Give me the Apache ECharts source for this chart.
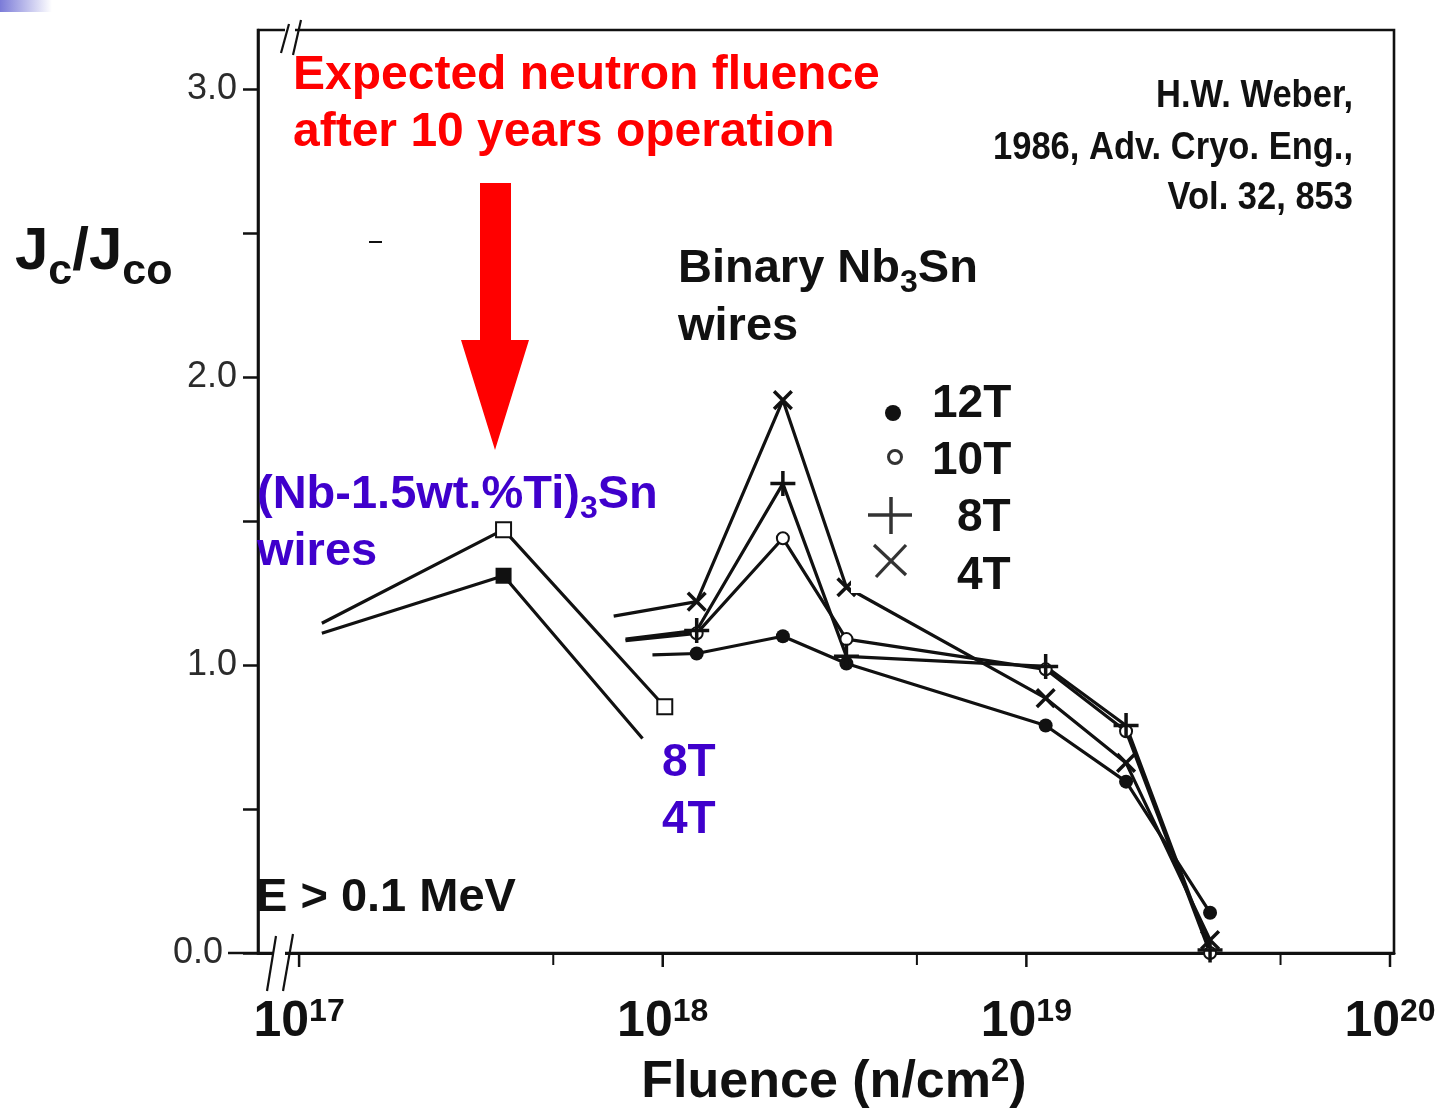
<!DOCTYPE html>
<html>
<head>
<meta charset="utf-8">
<script src="https://cdn.jsdelivr.net/npm/echarts@6/dist/echarts.min.js"></script>
<style>
html,body{margin:0;padding:0;background:#fff;}
#chart{width:1439px;height:1112px;}
</style>
</head>
<body>
<div id="chart"></div>
<script>
// ---------- data ----------
// Binary Nb3Sn wires: fluence (n/cm^2) of the marked points
const binFluence = [1.24e18, 2.14e18, 3.2e18, 1.13e19, 1.88e19, 3.2e19];
const bin12T = [1.04, 1.10, 1.005, 0.79, 0.595, 0.14];
const bin10T = [1.11, 1.44, 1.09, 0.985, 0.77, 0.0];
const bin8T  = [1.12, 1.63, 1.03, 0.995, 0.79, 0.01];
const bin4T  = [1.22, 1.92, 1.27, 0.885, 0.66, 0.045];
// where each binary line begins (no marker), order 12T,10T,8T,4T
const binStartFluence = [9.37e17, 7.9e17, 7.9e17, 7.33e17];
const binStartJc      = [1.035, 1.085, 1.09, 1.17];
// (Nb-1.5wt.%Ti)3Sn wires
const tiFluence8T = [1.155e17, 3.65e17, 1.013e18];
const ti8T        = [1.145, 1.47, 0.855];
const tiFluence4T = [1.155e17, 3.65e17, 8.8e17];
const ti4T        = [1.11, 1.31, 0.745];
// axis ticks
const xTickExps = [17, 18, 19, 20];
const xMinorTicks = [5e17, 5e18, 5e19];
const yLabels = [0, 1, 2, 3];

const FONT = '"Liberation Sans", Arial, Helvetica, sans-serif';
const NARROW = '"Liberation Sans Narrow", "Arial Narrow", "Liberation Sans", sans-serif';
const INK = '#111';
const BLUE = '#3f00cc';
const RED = '#ff0000';

const plusPath = 'path://M0,8.6H20V11.4H0Z M8.6,0H11.4V20H8.6Z';

function pts(xs, ys, noFirst, noLast) {
  return xs.map((x, i) => {
    const it = { value: [x, ys[i]] };
    if ((noFirst && i === 0) || (noLast && i === xs.length - 1)) it.symbol = 'none';
    return it;
  });
}
function binLine(name, idx, ys, symbol, size, rotate, item) {
  const xs = [binStartFluence[idx]].concat(binFluence);
  const vs = [binStartJc[idx]].concat(ys);
  return {
    name, type: 'line', data: pts(xs, vs, true, false),
    symbol, symbolSize: size, symbolRotate: rotate || 0, showAllSymbol: true,
    lineStyle: { color: INK, width: 3.2 },
    itemStyle: Object.assign({ color: INK }, item || {}),
    z: 3
  };
}

const series = [
  binLine('12T', 0, bin12T, 'circle', 14),
  binLine('10T', 1, bin10T, 'emptyCircle', 12, 0, { borderWidth: 2.8, borderColor: INK, color: INK }),
  binLine('8T', 2, bin8T, plusPath, 25),
  binLine('4T', 3, bin4T, plusPath, 25, 45),
  {
    name: 'Ti 8T', type: 'line', data: pts(tiFluence8T, ti8T, true, false),
    symbol: 'emptyRect', symbolSize: 15, showAllSymbol: true,
    lineStyle: { color: INK, width: 3.2 },
    itemStyle: { color: INK, borderColor: INK, borderWidth: 2.6 }, z: 3
  },
  {
    name: 'Ti 4T', type: 'line', data: pts(tiFluence4T, ti4T, true, true),
    symbol: 'rect', symbolSize: 16, showAllSymbol: true,
    lineStyle: { color: INK, width: 3.2 },
    itemStyle: { color: INK }, z: 3
  }
];

const option = {
  animation: false,
  backgroundColor: '#ffffff',
  grid: { left: 258, right: 45, top: 30, bottom: 159, show: true, borderColor: INK, borderWidth: 2.6 },
  xAxis: {
    type: 'log', logBase: 10,
    min: Math.pow(10, 16.887), max: Math.pow(10, 20.011),
    axisLine: { show: true, onZero: false, lineStyle: { color: INK, width: 3 } },
    axisTick: { show: false },
    splitLine: { show: false },
    minorTick: { show: false },
    axisLabel: {
      show: true, margin: 43, showMinLabel: false, showMaxLabel: false,
      formatter: function (v) {
        const e = Math.log10(v);
        const r = Math.round(e);
        if (Math.abs(e - r) > 1e-6 || xTickExps.indexOf(r) < 0) return '';
        return '{b|10}{s|' + r + '}';
      },
      rich: {
        b: { fontSize: 50, fontWeight: 'bold', fontFamily: FONT, color: INK, lineHeight: 52 },
        s: { fontSize: 32, fontWeight: 'bold', fontFamily: FONT, color: INK, lineHeight: 24, verticalAlign: 'top' }
      }
    }
  },
  yAxis: {
    type: 'value', min: 0, max: 3.205, interval: 0.5,
    axisLine: { show: true, onZero: false, lineStyle: { color: INK, width: 2.6 } },
    axisTick: { show: true, inside: false, length: 15, lineStyle: { color: INK, width: 2.5 } },
    splitLine: { show: false },
    axisLabel: {
      margin: 21, fontSize: 36, color: '#2b2b2b', fontFamily: FONT, showMaxLabel: false,
      formatter: function (v) {
        const r = Math.round(v * 1000) / 1000;
        if (yLabels.indexOf(r) < 0) return '';
        return r === 0 ? '{z|' + v.toFixed(1) + '}' : v.toFixed(1);
      },
      rich: { z: { fontSize: 36, color: '#2b2b2b', fontFamily: FONT, padding: [0, 14, 0, 0] } }
    }
  },
  series: series
};

const chart = echarts.init(document.getElementById('chart'), null, { renderer: 'canvas' });
chart.setOption(option);

function px(x, y) { return chart.convertToPixel({ gridIndex: 0 }, [x, y]); }

const mctx = document.createElement('canvas').getContext('2d');
function measure(text, font) { mctx.font = font; return mctx.measureText(text).width; }

function txt(text, x, y, size, color, align, extra) {
  return Object.assign({
    type: 'text', z: 120,
    style: {
      text: text, x: x, y: y, fill: color || INK,
      font: 'bold ' + size + 'px ' + FONT,
      align: align || 'left', verticalAlign: 'middle',
      textAlign: align || 'left', textVerticalAlign: 'middle'
    }
  }, extra || {});
}
// composite text on a common baseline B; parts: [text, size, baselineShift]
function comp(parts, x, B, color, align) {
  const fonts = parts.map(p => 'bold ' + p[1] + 'px ' + FONT);
  const ws = parts.map((p, i) => measure(p[0], fonts[i]));
  const total = ws.reduce((a, b) => a + b, 0);
  let cx = align === 'center' ? x - total / 2 : (align === 'right' ? x - total : x);
  const out = [];
  parts.forEach((p, i) => {
    out.push({
      type: 'text', z: 120,
      style: {
        text: p[0], x: cx, y: B + (p[2] || 0) - 0.3465 * p[1], fill: color || INK, font: fonts[i],
        align: 'left', verticalAlign: 'middle', textAlign: 'left', textVerticalAlign: 'middle'
      }
    });
    cx += ws[i];
  });
  return out;
}
function line(x1, y1, x2, y2, w, color, z) {
  return { type: 'line', z: z || 110, shape: { x1, y1, x2, y2 }, style: { stroke: color || INK, lineWidth: w || 2.5 } };
}

const g = [];
// top-left slide gradient
g.push({ type: 'rect', z: 1, shape: { x: 0, y: 0, width: 52, height: 12 },
  style: { fill: new echarts.graphic.LinearGradient(0, 0, 1, 0, [{ offset: 0, color: '#7b7bd8' }, { offset: 1, color: '#ffffff' }]) } });

// x ticks (major + minor) through the axis scale
const axY = px(1e18, 0)[1];
xTickExps.forEach(e => { const p = px(Math.pow(10, e), 0); g.push(line(p[0], axY, p[0], axY + 14, 2.5)); });
xMinorTicks.forEach(v => { const p = px(v, 0); g.push(line(p[0], axY, p[0], axY + 12, 2)); });

// axis break marks
g.push({ type: 'rect', z: 105, shape: { x: 285, y: 24, width: 10, height: 12 }, style: { fill: '#fff' } });
g.push(line(281, 53, 289, 24, 2.2));
g.push(line(293, 55, 301, 20, 2.2));
g.push({ type: 'rect', z: 105, shape: { x: 274, y: 946, width: 11, height: 14 }, style: { fill: '#fff' } });
g.push(line(267, 991, 276, 936, 2.2));
g.push(line(283, 991, 293, 934, 2.2));
g.push(line(228, axY, 258, axY, 2.5));

// stray mark
g.push(line(369, 242, 382, 242, 2));

// red annotation
g.push(txt('Expected neutron fluence', 293, 76, 48, RED));
g.push(txt('after 10 years operation', 293, 133, 48, RED));
g.push({ type: 'polygon', z: 110, shape: { points: [[480, 183], [511, 183], [511, 340], [529, 340], [495, 450], [461, 340], [480, 340]] }, style: { fill: RED } });

// citation (narrow bold, fitted to the reference width)
const citeFont = 'bold 39px ' + NARROW;
const citeScale = 360 / measure('1986, Adv. Cryo. Eng.,', citeFont);
[['H.W. Weber,', 96], ['1986, Adv. Cryo. Eng.,', 148], ['Vol. 32, 853', 198]].forEach(c => {
  g.push({
    type: 'text', z: 120, x: 1353, y: c[1], scaleX: citeScale,
    style: { text: c[0], x: 0, y: 0, fill: INK, font: citeFont, align: 'right', verticalAlign: 'middle', textAlign: 'right', textVerticalAlign: 'middle' }
  });
});

// y axis title J_c / J_co
comp([['J', 60, 0], ['c', 43, 14], ['/J', 60, 0], ['co', 43, 14]], 15, 273, INK).forEach(e => g.push(e));

// binary label
comp([['Binary Nb', 47, 0], ['3', 32, 9], ['Sn', 47, 0]], 678, 285, INK).forEach(e => g.push(e));
comp([['wires', 47, 0]], 678, 343, INK).forEach(e => g.push(e));

// Ti label
comp([['(Nb-1.5wt.%Ti)', 47, 0], ['3', 32, 9], ['Sn', 47, 0]], 257, 511, BLUE).forEach(e => g.push(e));
comp([['wires', 47, 0]], 257, 568, BLUE).forEach(e => g.push(e));
comp([['8T', 46, 0]], 662, 779, BLUE).forEach(e => g.push(e));
comp([['4T', 46, 0]], 662, 836, BLUE).forEach(e => g.push(e));

// legend box
g.push({ type: 'rect', z: 100, shape: { x: 851, y: 382, width: 170, height: 211 }, style: { fill: '#fff' } });
g.push({ type: 'circle', z: 110, shape: { cx: 893, cy: 413, r: 8 }, style: { fill: '#111' } });
g.push({ type: 'circle', z: 110, shape: { cx: 895, cy: 457, r: 6.5 }, style: { fill: '#fff', stroke: '#333', lineWidth: 3 } });
g.push(line(868, 515, 912, 515, 3.5, '#333'));
g.push(line(891, 497, 891, 534, 3.5, '#333'));
g.push(line(874, 545, 906, 575, 3.2, '#333'));
g.push(line(906, 545, 876, 577, 3.2, '#333'));
g.push(txt('12T', 932, 404, 46, INK));
g.push(txt('10T', 932, 461, 46, INK));
g.push(txt('8T', 957, 518, 46, INK));
g.push(txt('4T', 957, 576, 46, INK));

// energy note
comp([['E > 0.1 MeV', 47, 0]], 256, 914, INK).forEach(e => g.push(e));

// x axis title
comp([['Fluence (n/cm', 52, 0], ['2', 33, -18], [')', 52, 0]], 834, 1101, INK, 'center').forEach(e => g.push(e));

chart.setOption({ graphic: { elements: g } });
</script>
</body>
</html>
